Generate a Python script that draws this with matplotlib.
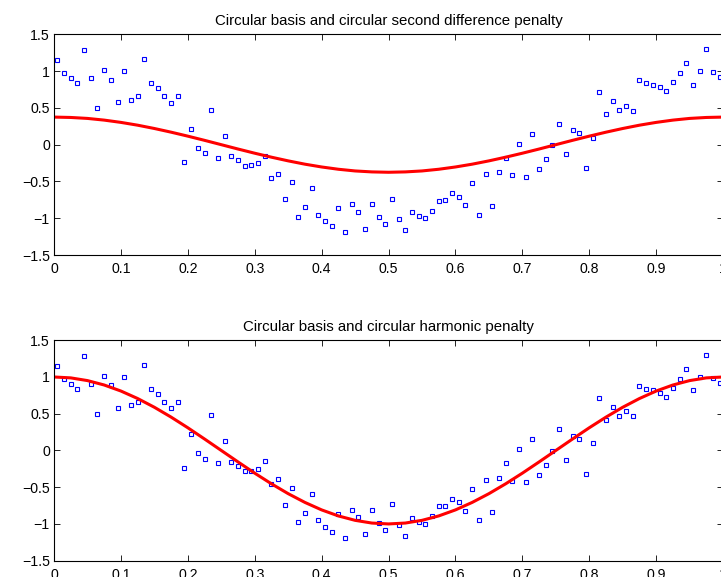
import matplotlib
matplotlib.use('Agg')
import matplotlib.pyplot as plt
import numpy as np

plt.rcParams['font.family'] = ['Liberation Sans', 'DejaVu Sans']

# data points (x at bin centres)
x_pts = [0.005 + 0.01 * i for i in range(100)]
y_pts = [
    1.145, 0.968, 0.909, 0.836, 1.282, 0.900, 0.500, 1.018, 0.886, 0.582,
    0.995, 0.614, 0.655, 1.164, 0.841, 0.773, 0.655, 0.573, 0.664, -0.241,
    0.218, -0.041, -0.114, 0.477, -0.177, 0.123, -0.159, -0.205, -0.286, -0.282,
    -0.255, -0.150, -0.450, -0.395, -0.741, -0.509, -0.977, -0.845, -0.586, -0.950,
    -1.036, -1.109, -0.859, -1.186, -0.805, -0.909, -1.141, -0.805, -0.986, -1.077,
    -0.732, -1.009, -1.164, -0.914, -0.968, -0.995, -0.895, -0.759, -0.750, -0.655,
    -0.705, -0.818, -0.518, -0.950, -0.400, -0.832, -0.373, -0.177, -0.414, 0.014,
    -0.436, 0.150, -0.336, -0.195, -0.005, 0.286, -0.132, 0.195, 0.159, -0.318,
    0.095, 0.714, 0.414, 0.591, 0.473, 0.532, 0.464, 0.877, 0.836, 0.818,
    0.782, 0.723, 0.850, 0.973, 1.109, 0.818, 0.995, 1.295, 0.991, 0.923,
]

# fitted curves, read at steps of 0.025
x_fit = [0.025 * i for i in range(41)]
half_top = [0.375, 0.370, 0.357, 0.334, 0.303, 0.265, 0.220, 0.170, 0.116, 0.059, 0.0]
half_bot = [1.0, 0.988, 0.951, 0.891, 0.809, 0.707, 0.588, 0.454, 0.309, 0.156, 0.0]
fit_top = half_top + [-v for v in half_top[-2::-1]] + [-v for v in half_top[1:]] + half_top[-2::-1]
fit_bot = half_bot + [-v for v in half_bot[-2::-1]] + [-v for v in half_bot[1:]] + half_bot[-2::-1]

titles = ['Circular basis and circular second difference penalty',
          'Circular basis and circular harmonic penalty']
xticks = [0, 0.1, 0.2, 0.3, 0.4, 0.5, 0.6, 0.7, 0.8, 0.9, 1]
xlabels = ['0', '0.1', '0.2', '0.3', '0.4', '0.5', '0.6', '0.7', '0.8', '0.9', '1']
yticks = [-1.5, -1, -0.5, 0, 0.5, 1, 1.5]
ylabels = ['\u22121.5', '\u22121', '\u22120.5', '0', '0.5', '1', '1.5']

fig = plt.figure(figsize=(7.21, 5.77), dpi=100)
ax1 = fig.add_axes([0.0749, 0.558, 0.928, 0.3825])
ax2 = fig.add_axes([0.0749, 0.0283, 0.928, 0.382])

for ax, fit, title in zip([ax1, ax2], [fit_top, fit_bot], titles):
    ax.plot(x_pts, y_pts, 's', mfc='none', mec='#0000ff', ms=3, mew=0.8, clip_on=False)
    ax.plot(x_fit, fit, '-', color='#ff0000', lw=2.2)
    ax.set_xlim(0, 1)
    ax.set_ylim(-1.5, 1.5)
    ax.set_xticks(xticks)
    ax.set_xticklabels(xlabels)
    ax.set_yticks(yticks)
    ax.set_yticklabels(ylabels)
    ax.tick_params(direction='in', length=4, width=0.6, labelsize=10.2,
                   top=True, right=True)
    ax.tick_params(axis='x', pad=5)
    ax.tick_params(axis='y', pad=3)
    for s in ax.spines.values():
        s.set_linewidth(0.8)
    ax.set_title(title, fontsize=10.8, pad=7)

fig.savefig('out.png', dpi=100)
